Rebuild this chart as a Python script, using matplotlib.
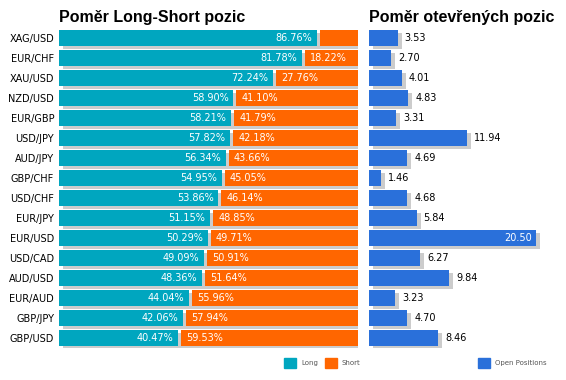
import numpy as np
import matplotlib
matplotlib.use('Agg')
import matplotlib.pyplot as plt
from matplotlib.transforms import ScaledTranslation
from matplotlib.patches import Rectangle

# data
pairs = ['XAG/USD', 'EUR/CHF', 'XAU/USD', 'NZD/USD', 'EUR/GBP', 'USD/JPY', 'AUD/JPY', 'GBP/CHF',
         'USD/CHF', 'EUR/JPY', 'EUR/USD', 'USD/CAD', 'AUD/USD', 'EUR/AUD', 'GBP/JPY', 'GBP/USD']
long_pct = [86.76, 81.78, 72.24, 58.90, 58.21, 57.82, 56.34, 54.95,
            53.86, 51.15, 50.29, 49.09, 48.36, 44.04, 42.06, 40.47]
short_pct = [13.24, 18.22, 27.76, 41.10, 41.79, 42.18, 43.66, 45.05,
             46.14, 48.85, 49.71, 50.91, 51.64, 55.96, 57.94, 59.53]
open_pos = [3.53, 2.70, 4.01, 4.83, 3.31, 11.94, 4.69, 1.46,
            4.68, 5.84, 20.50, 6.27, 9.84, 3.23, 4.70, 8.46]

c_long = '#00a6bf'
c_short = '#ff6600'
c_open = '#2a70da'
c_shadow = '#cccccc'

W, H = 566, 380
fig = plt.figure(figsize=(W / 100, H / 100), dpi=100)

def px_axes(x0, x1, y0, y1):
    # pixel box (from top-left) -> figure axes
    return fig.add_axes([x0 / W, 1 - y1 / H, (x1 - x0) / W, (y1 - y0) / H])

n = len(pairs)
y = np.arange(n)
bh = 0.8
shadow = ScaledTranslation(4 / 100, -3 / 100, fig.dpi_scale_trans)

#%% left chart: long / short ratio
ax1 = px_axes(59, 357.7, 28, 348)
ax1.set_xlim(0, 100)
ax1.set_ylim(n - 0.5, -0.5)
g = 3 * 100 / 298.7   # white gap between long and short (3px)

ax1.barh(y, 100, height=bh, color=c_shadow, transform=ax1.transData + shadow, zorder=1)
long_w = np.array(long_pct) - g / 2
short_l = np.array(long_pct) + g / 2
ax1.barh(y, long_w, height=bh, color=c_long, zorder=2)
ax1.barh(y, np.array(short_pct) - g / 2, left=short_l, height=bh, color=c_short, zorder=2)

for i in range(n):
    ax1.annotate('%.2f%%' % long_pct[i], (long_w[i], i), xytext=(-3.5, 0), textcoords='offset points',
                 ha='right', va='center', color='white', fontsize=7, zorder=3)
    if short_pct[i] > 15:
        ax1.annotate('%.2f%%' % short_pct[i], (short_l[i], i), xytext=(3.5, 0), textcoords='offset points',
                     ha='left', va='center', color='white', fontsize=7, zorder=3)

ax1.set_yticks(y)
ax1.set_yticklabels(pairs, fontsize=7)
ax1.tick_params(axis='y', length=0, pad=3.5)
ax1.set_xticks([])
for s in ax1.spines.values():
    s.set_visible(False)

#%% right chart: open positions
ax2 = px_axes(369, 560, 28, 348)
xmax2 = 191 / 8.17
ax2.set_xlim(0, xmax2)
ax2.set_ylim(n - 0.5, -0.5)
ax2.barh(y, open_pos, height=bh, color=c_shadow, transform=ax2.transData + shadow, zorder=1)
ax2.barh(y, open_pos, height=bh, color=c_open, zorder=2)
for i in range(n):
    if open_pos[i] > 0.8 * xmax2:
        # no room to the right: label goes inside the bar
        ax2.annotate('%.2f' % open_pos[i], (open_pos[i], i), xytext=(-3.5, 0), textcoords='offset points',
                     ha='right', va='center', color='white', fontsize=7, zorder=3)
    else:
        ax2.annotate('%.2f' % open_pos[i], (open_pos[i], i), xytext=(5, 0), textcoords='offset points',
                     ha='left', va='center', color='black', fontsize=7, zorder=3)
ax2.set_xticks([])
ax2.set_yticks([])
for s in ax2.spines.values():
    s.set_visible(False)

#%% titles
fig.text(59 / W, 1 - 22 / H, 'Poměr Long-Short pozic', family='Liberation Sans', weight='bold',
         fontsize=11.5, va='baseline', ha='left')
fig.text(369 / W, 1 - 22 / H, 'Poměr otevřených pozic', family='Liberation Sans', weight='bold',
         fontsize=11.5, va='baseline', ha='left')

#%% legends
def legend_item(x, label, color):
    fig.patches.append(Rectangle((x / W, 1 - 368 / H), 12 / W, 10 / H, color=color,
                                 transform=fig.transFigure, figure=fig))
    fig.text((x + 17) / W, 1 - 363 / H, label, fontsize=5, color='#555555', va='center', ha='left')

legend_item(284, 'Long', c_long)
legend_item(325, 'Short', c_short)
legend_item(478, 'Open Positions', c_open)

fig.savefig('out.png', dpi=100)
